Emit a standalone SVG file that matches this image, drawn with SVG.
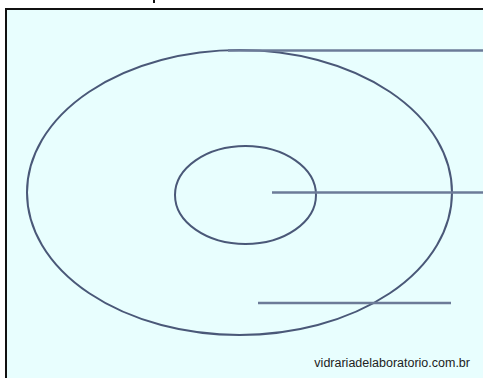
<svg xmlns="http://www.w3.org/2000/svg" width="483" height="378" viewBox="0 0 483 378">
<style>
.ring{fill:none;stroke:#4a5878;stroke-width:2}
.lead{fill:none;stroke:#6c7b98;stroke-width:2.5}
.lbl{font-family:"Liberation Sans",Arial,sans-serif;font-size:12.5px;fill:#222}
</style>
<rect width="483" height="378" fill="#ffffff"/>
<rect x="6" y="9" width="490" height="380" fill="#e8fefe" stroke="#111" stroke-width="2"/>
<rect x="153" y="0" width="2" height="3" fill="#111"/>
<g id="outer"><ellipse class="ring" cx="239.5" cy="192.5" rx="212.5" ry="142.5"/></g>
<g id="inner"><ellipse class="ring" cx="245.5" cy="195" rx="70.5" ry="49"/></g>
<g id="connectors">
<line class="lead" x1="228" y1="50.5" x2="483" y2="50.5"/>
<line class="lead" x1="272" y1="192.5" x2="483" y2="192.5"/>
<line class="lead" x1="258" y1="303" x2="451" y2="303"/>
</g>
<text class="lbl" x="470" y="367" text-anchor="end">vidrariadelaboratorio.com.br</text>
</svg>
